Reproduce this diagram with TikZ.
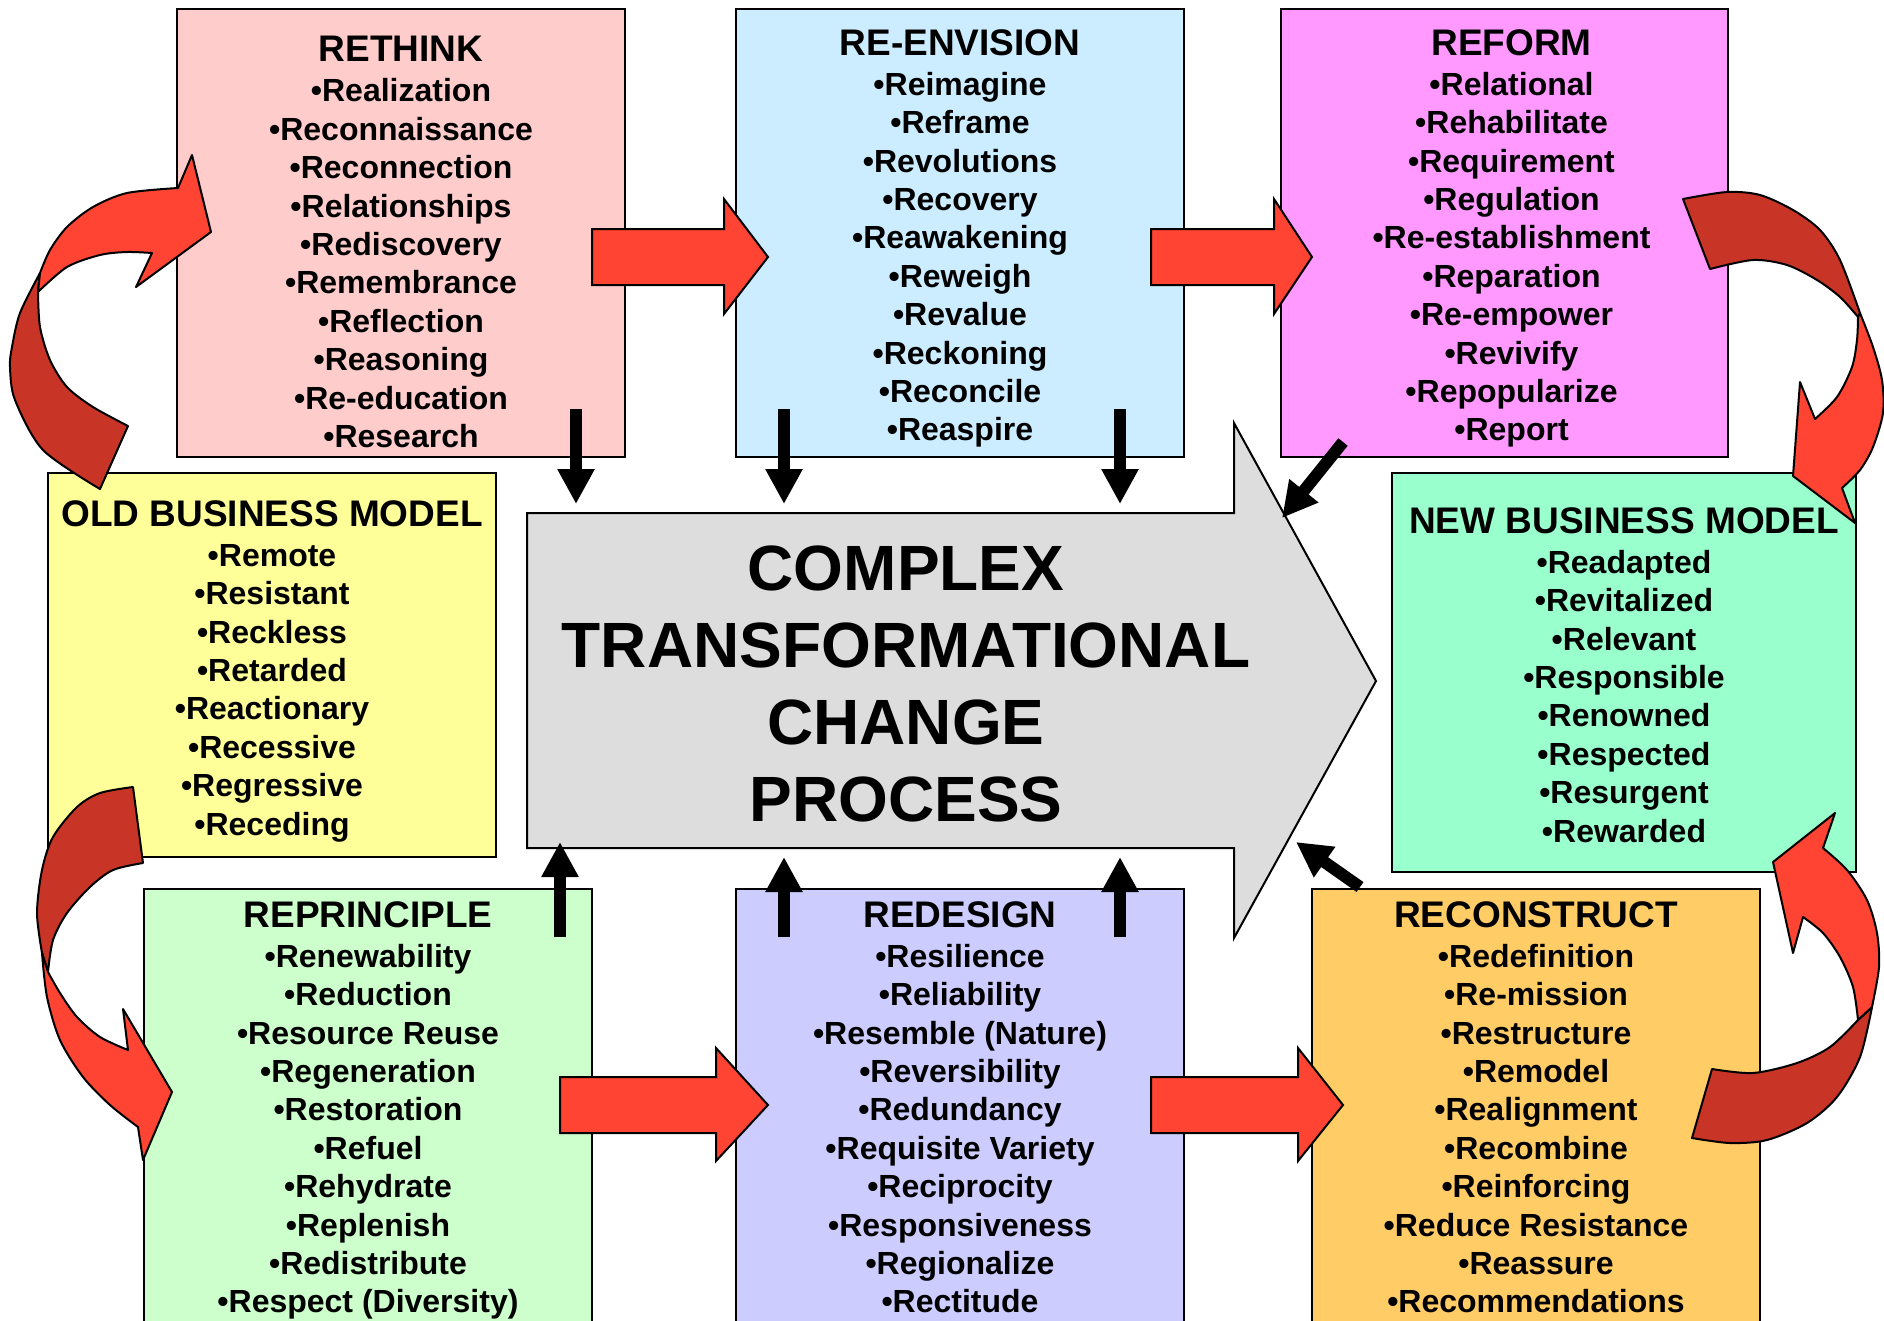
\documentclass[tikz,border=0pt]{standalone}
\usepackage{fontspec}
\setmainfont{Liberation Sans}
\usetikzlibrary{arrows.meta,positioning}
\definecolor{rethinkpink}{HTML}{FFCCCC}
\definecolor{envisionblue}{HTML}{CCECFF}
\definecolor{reformmagenta}{HTML}{FF99FF}
\definecolor{oldyellow}{HTML}{FFFF99}
\definecolor{newgreen}{HTML}{99FFCC}
\definecolor{principlegreen}{HTML}{CCFFCC}
\definecolor{designlilac}{HTML}{CCCCFF}
\definecolor{constructorange}{HTML}{FFCC66}
\definecolor{processgray}{HTML}{DDDDDD}
\definecolor{arrowred}{HTML}{FF4433}
\definecolor{arrowdark}{HTML}{C83527}
\tikzset{
  box/.style = {draw, line width=2.5pt, anchor=north west, inner sep=0pt, outer sep=0pt, minimum width=448pt},
  txt/.style = {align=center, inner sep=0pt, outer sep=0pt, font=\bfseries\fontsize{32}{38.4}\selectfont},
  bigtxt/.style = {align=center, inner sep=0pt, font=\bfseries\fontsize{64}{77}\selectfont},
  blockarrow/.style = {draw, fill=arrowred, line width=2pt, line join=miter},
  twistfront/.style = {draw, fill=arrowred, line width=2pt, line join=round},
  twistback/.style = {draw, fill=arrowdark, line width=2pt, line join=round},
  push/.style = {line width=12pt, -{Triangle[length=35pt,width=35pt]}},
}
\newcommand\boxtitle[1]{{\fontsize{37}{38.4}\selectfont #1}\\[1.6pt]}

\begin{document}
\begin{tikzpicture}[x=1pt, y=-1pt]
\useasboundingbox (0,0) rectangle (1884,1320);
\clip (0,0) rectangle (1884,1320);

\node [box, fill=rethinkpink, minimum height=448pt] (rethink) at (177,9) {};
\node [box, fill=envisionblue, minimum height=448pt] (envision) at (736,9) {};
\node [box, fill=reformmagenta, minimum height=448pt, minimum width=447pt] (reform) at (1281,9) {};
\node [box, fill=oldyellow, minimum height=384pt] (oldbm) at (48,473) {};
\node [box, fill=newgreen, minimum height=399pt, minimum width=464pt] (newbm) at (1392,473) {};
\node [box, fill=principlegreen, minimum height=460pt] (principle) at (144,889) {};
\node [box, fill=designlilac, minimum height=460pt] (design) at (736,889) {};
\node [box, fill=constructorange, minimum height=460pt] (construct) at (1312,889) {};

\node [txt, below=27.5pt of rethink.north] (rethinktxt) {\boxtitle{RETHINK}
  •Realization\\•Reconnaissance\\•Reconnection\\•Relationships\\•Rediscovery\\
  •Remembrance\\•Reflection\\•Reasoning\\•Re-education\\•Research};
\node [txt, below=20.5pt of envision.north] (envisiontxt) {\boxtitle{RE-ENVISION}
  •Reimagine\\•Reframe\\•Revolutions\\•Recovery\\•Reawakening\\
  •Reweigh\\•Revalue\\•Reckoning\\•Reconcile\\•Reaspire};
\node [txt, below=20.5pt of reform.north, xshift=7pt] (reformtxt) {\boxtitle{REFORM}
  •Relational\\•Rehabilitate\\•Requirement\\•Regulation\\•Re-establishment\\
  •Reparation\\•Re-empower\\•Revivify\\•Repopularize\\•Report};
\node [txt, below=27.5pt of oldbm.north] (oldbmtxt) {\boxtitle{OLD BUSINESS MODEL}
  •Remote\\•Resistant\\•Reckless\\•Retarded\\•Reactionary\\•Recessive\\•Regressive\\•Receding};
\node [txt, below=34.5pt of newbm.north] (newbmtxt) {\boxtitle{NEW BUSINESS MODEL}
  •Readapted\\•Revitalized\\•Relevant\\•Responsible\\•Renowned\\•Respected\\•Resurgent\\•Rewarded};
\node [txt, below=12.5pt of principle.north] (principletxt) {\boxtitle{REPRINCIPLE}
  •Renewability\\•Reduction\\•Resource Reuse\\•Regeneration\\•Restoration\\
  •Refuel\\•Rehydrate\\•Replenish\\•Redistribute\\•Respect (Diversity)};
\node [txt, below=12.5pt of design.north] (designtxt) {\boxtitle{REDESIGN}
  •Resilience\\•Reliability\\•Resemble (Nature)\\•Reversibility\\•Redundancy\\
  •Requisite Variety\\•Reciprocity\\•Responsiveness\\•Regionalize\\•Rectitude};
\node [txt, below=12.5pt of construct.north] (constructtxt) {\boxtitle{RECONSTRUCT}
  •Redefinition\\•Re-mission\\•Restructure\\•Remodel\\•Realignment\\
  •Recombine\\•Reinforcing\\•Reduce Resistance\\•Reassure\\•Recommendations};

% big process arrow
\filldraw [fill=processgray, line width=2pt] (527,513) -- (1234,513) -- (1234,423) -- (1376,681)
  -- (1234,938) -- (1234,848) -- (527,848) -- cycle;
\node [bigtxt] (ctcp) at (906,683.5) {COMPLEX\\TRANSFORMATIONAL\\CHANGE\\PROCESS};

% straight red arrows
\filldraw [blockarrow] (592,229) -- (724,229) -- (724,199) -- (768,257) -- (724,314) -- (724,285) -- (592,285) -- cycle;
\filldraw [blockarrow] (1151,229) -- (1274,229) -- (1274,199) -- (1312,257) -- (1274,314) -- (1274,285) -- (1151,285) -- cycle;
\filldraw [blockarrow] (560,1077) -- (716,1077) -- (716,1048) -- (768,1105) -- (716,1161) -- (716,1133) -- (560,1133) -- cycle;
\filldraw [blockarrow] (1151,1077) -- (1298,1077) -- (1298,1048) -- (1343,1105) -- (1298,1161) -- (1298,1133) -- (1151,1133) -- cycle;

% curved red arrows
\filldraw [twistback] (100,489) -- (128,426) -- plot[smooth] coordinates {(128,426) (93,407) (67,387) (50,360) (40,327) (38,292)}
  -- (40,273) -- plot[smooth] coordinates {(40,273) (20,313) (12,347) (10,367) (15,400) (43,450) (100,489)} -- cycle;
\filldraw [twistfront] (38,292) -- (40,273) -- plot[smooth] coordinates {(40,273) (50,250) (67,227) (93,207) (127,193) (178,188)}
  -- (192,155) -- (211,232) -- (136,287) -- (152,253)
  -- plot[smooth] coordinates {(152,253) (127,252) (100,255) (67,267) (38,292)} -- cycle;

\filldraw [twistback] (1683,199) -- plot[smooth] coordinates {(1683,199) (1727,192) (1760,195) (1793,210) (1820,230) (1840,260) (1860,313)}
  -- (1858,317) -- plot[smooth] coordinates {(1858,317) (1840,297) (1817,280) (1787,265) (1753,260) (1710,269)} -- cycle;
\filldraw [twistfront] (1858,317) -- (1860,313) -- plot[smooth] coordinates {(1860,313) (1873,347) (1882,380) (1883,413) (1873,447) (1860,470) (1842,488)}
  -- (1855,523) -- (1793,476) -- (1800,382) -- (1815,419)
  -- plot[smooth] coordinates {(1815,419) (1837,397) (1852,367) (1857,340) (1858,317)} -- cycle;

\filldraw [twistback] (133,787) -- (143,863) -- plot[smooth] coordinates {(143,863) (113,870) (90,887) (67,913) (53,940) (48,972)}
  -- (42,953) -- plot[smooth] coordinates {(42,953) (37,913) (42,870) (53,837) (77,807) (100,793) (133,787)} -- cycle;
\filldraw [twistfront] (48,972) -- (42,953) -- plot[smooth] coordinates {(42,953) (47,997) (60,1040) (83,1077) (110,1105) (138,1127)}
  -- (143,1160) -- (172,1092) -- (123,1009) -- (128,1050)
  -- plot[smooth] coordinates {(128,1050) (100,1037) (77,1017) (60,993) (48,972)} -- cycle;

\filldraw [twistback] (1712,1069) -- (1692,1138) -- plot[smooth] coordinates {(1692,1138) (1730,1143) (1767,1140) (1807,1123) (1837,1097) (1860,1057) (1872,1007)}
  -- (1858,1020) -- plot[smooth] coordinates {(1858,1020) (1830,1047) (1797,1063) (1753,1073) (1712,1069)} -- cycle;
\filldraw [twistfront] (1858,1020) -- (1872,1007) -- plot[smooth] coordinates {(1872,1007) (1879,967) (1877,933) (1867,900) (1847,870) (1823,848)}
  -- (1835,813) -- (1773,862) -- (1793,953) -- (1803,917)
  -- plot[smooth] coordinates {(1803,917) (1823,933) (1840,957) (1853,987) (1858,1020)} -- cycle;

% black arrows into the process
\coordinate (rethinkout) at (576,409);   \coordinate (ctcpn1) at (576,504);
\coordinate (envisionout1) at (784,409); \coordinate (ctcpn2) at (784,504);
\coordinate (envisionout2) at (1120,409); \coordinate (ctcpn3) at (1120,504);
\coordinate (reformout) at (1343,442);   \coordinate (ctcpne) at (1282,518);
\coordinate (principleout) at (560,937); \coordinate (ctcps1) at (560,842);
\coordinate (designout1) at (784,937);   \coordinate (ctcps2) at (784,857);
\coordinate (designout2) at (1120,937);  \coordinate (ctcps3) at (1120,857);
\coordinate (constructout) at (1360,887); \coordinate (ctcpse) at (1296,842);

\draw [push] (rethinkout) -- (ctcpn1);
\draw [push] (envisionout1) -- (ctcpn2);
\draw [push] (envisionout2) -- (ctcpn3);
\draw [push] (reformout) -- (ctcpne);
\draw [push] (principleout) -- (ctcps1);
\draw [push] (designout1) -- (ctcps2);
\draw [push] (designout2) -- (ctcps3);
\draw [push] (constructout) -- (ctcpse);
\end{tikzpicture}
\end{document}
